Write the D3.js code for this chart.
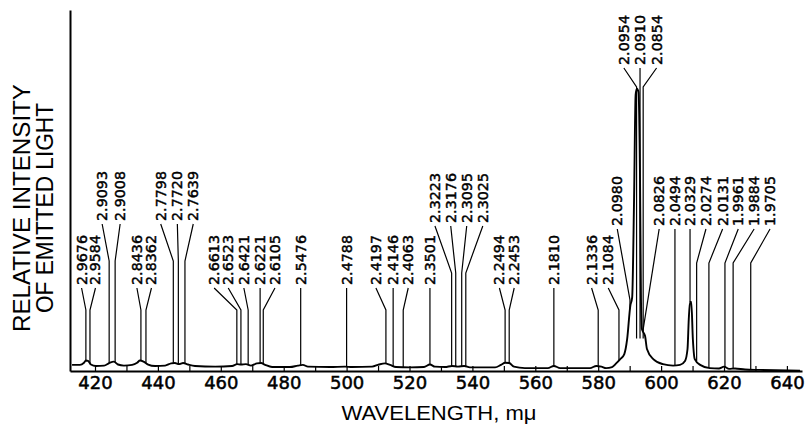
<!DOCTYPE html>
<html><head><meta charset="utf-8">
<script src="https://cdn.jsdelivr.net/npm/d3@7"></script>
<style>body{margin:0;background:#fff} svg{display:block}</style>
</head><body><svg id="c" width="805" height="429"></svg>
<script>
// ---------------- DATA ----------------
const specWavelength = [412.7,415.2,416.5,417.1,417.8,418.7,420.3,422.9,424.5,426.0,427.3,429.2,431.8,433.4,434.3,435.6,436.9,439.1,442.3,444.2,445.4,446.7,448.0,449.6,451.8,458.2,463.6,465.2,466.4,468.0,469.6,471.5,472.8,474.1,476.3,482.0,484.5,486.1,487.7,494.7,499.5,501.7,508.1,510.3,512.2,513.8,515.7,520.2,524.6,526.5,528.1,531.3,533.5,535.4,537.4,539.2,547.2,549.1,550.4,551.7,553.2,556.7,564.0,565.9,567.9,577.4,579.4,581.0,582.5,584.4,585.7,587.0,588.3,589.2,590.2,590.8,591.4,591.9,592.3,592.8,593.3,593.6,593.9,594.9,595.5,597.5,600.6,603.8,606.0,607.6,608.4,608.8,609.2,609.6,610.1,610.7,612.4,615.5,618.4,620.0,621.6,623.5,626.7,631.4,644.2];
const specIntensity  = [1.7,1.7,2.3,2.9,2.8,1.8,1.4,1.5,2.2,2.6,1.8,1.5,1.7,2.3,2.9,2.5,1.8,1.4,1.5,2.1,2.2,1.9,2.2,1.8,1.4,1.2,1.4,1.9,1.8,1.9,1.5,2.1,2.2,1.7,1.1,1.1,1.5,1.7,1.2,1.1,1.2,1.1,1.2,1.8,2.1,1.7,1.1,1.0,1.1,1.8,1.2,1.1,1.4,1.2,1.4,1.0,1.0,1.7,2.3,2.2,1.2,0.8,0.8,1.4,0.8,0.8,1.4,1.2,0.8,1.1,2.1,3.3,4.7,8.8,18.0,20.4,47.5,76.5,78.2,77.3,53.0,19.9,11.6,9.7,6.1,3.3,1.9,1.5,1.7,2.8,6.1,14.4,19.1,19.1,8.8,3.3,1.7,0.8,0.7,1.2,0.6,0.7,0.4,0.3,0.1];

const lineLabels = ["2.9676","2.9584","2.9093","2.9008","2.8436","2.8362","2.7798","2.7720","2.7639","2.6613","2.6523","2.6421","2.6221","2.6105","2.5476","2.4788","2.4197","2.4146","2.4063","2.3501","2.3223","2.3176","2.3095","2.3025","2.2494","2.2453","2.1810","2.1336","2.1084","2.0980","2.0954","2.0910","2.0854","2.0826","2.0494","2.0329","2.0274","2.0131","1.9961","1.9884","1.9705"];
const lineWavelength = [417.1,418.4,424.5,426.4,434.6,436.2,444.9,446.5,448.6,465.1,466.4,468.7,472.5,473.5,485.4,500.0,512.5,514.8,518.0,526.5,533.4,534.7,536.6,537.9,550.4,551.7,565.9,580.0,586.6,590.1,592.2,593.3,594.3,594.2,604.4,609.2,611.3,615.2,620.3,622.9,628.5];

const xTickValues = [420,430,440,450,460,470,480,490,500,510,520,530,540,550,560,570,580,590,600,610,620,630,640];
const xTickLabels = {420:"420",440:"440",460:"460",480:"480",500:"500",520:"520",540:"540",560:"560",580:"580",600:"600",620:"620",640:"640"};
const xTitle = "WAVELENGTH, m\u03bc";
const yTitleLines = ["RELATIVE INTENSITY", "OF EMITTED LIGHT"];

// ---------------- LAYOUT (annotation placement) ----------------
const labelDx = [-4.3,5.5,-7,5,-4,5.5,-12.6,-1,8.3,-22.7,-12.7,-4.3,0,11.7,0,0,-10,0,5,0,-16.7,-5,5,17,-5.7,5,0,-6.6,-10.7,-12.7,-12.7,0,13.4,16.3,0,0,9.3,13.7,13.3,21,19.3];
const labelTier = ["low","low","mid","mid","low","low","mid","mid","mid","low","low","low","low","low","low","low","low","low","low","low","mid2","mid2","mid2","mid2","low","low","low","low","low","r2","top","top","top","diag","right","right","right","right","right","right","right"];
const tiers = {
  low:  {text: 285, bend: 310},
  mid:  {text: 221, bend: 261},
  mid2: {text: 223, bend: 273},
  right:{text: 226, bend: 263},
  r2:   {text: 226, bend: 300},
  diag: {text: 226, bend: 9999},
  top:  {text: 65,  bend: 87, foot: 9}
};
const labelFont = "'DejaVu Sans', Verdana, sans-serif";

// ---------------- DRAW ----------------
const svg = d3.select("#c");
const x = d3.scaleLinear().domain([412.05, 644.8]).range([70, 802]);
const y = d3.scaleLinear().domain([0, 100]).range([371, 10]);

function interpI(l) {
  const i = d3.bisectLeft(specWavelength, l);
  if (i <= 0) return specIntensity[0];
  if (i >= specWavelength.length) return specIntensity[specIntensity.length - 1];
  const x0 = specWavelength[i-1], x1 = specWavelength[i];
  const t = (l - x0) / (x1 - x0);
  return specIntensity[i-1] + t * (specIntensity[i] - specIntensity[i-1]);
}

// axes
const xAxis = d3.axisBottom(x).tickValues(xTickValues)
  .tickSizeInner(-5).tickSizeOuter(0).tickPadding(5)
  .tickFormat(d => xTickLabels[d] || "");
const gx = svg.append("g").attr("transform", `translate(0,${y(0)})`).call(xAxis);
gx.select(".domain").attr("stroke", "#000").attr("stroke-width", 2);
gx.selectAll(".tick line").attr("stroke", "#000").attr("stroke-width", 1.2);
gx.selectAll(".tick text").attr("font-family", labelFont)
  .attr("font-size", 18).attr("fill", "#000")
  .attr("stroke", "#000").attr("stroke-width", 0.5);

const yAxis = d3.axisLeft(y).tickValues([]).tickSizeOuter(0);
const gy = svg.append("g").attr("transform", `translate(${x.range()[0]},0)`).call(yAxis);
gy.select(".domain").attr("stroke", "#000").attr("stroke-width", 2);

// spectrum curve
const specData = specWavelength.map((w, i) => [w, specIntensity[i]]);
svg.append("path").datum(specData)
  .attr("fill", "none").attr("stroke", "#000").attr("stroke-width", 1.9)
  .attr("stroke-linejoin", "round")
  .attr("d", d3.line().x(d => x(d[0])).y(d => y(d[1])).curve(d3.curveMonotoneX));

// line markers + labels
const ann = svg.append("g");
lineLabels.forEach((lab, i) => {
  const tier = tiers[labelTier[i]];
  const px = x(lineWavelength[i]);
  const lx = px + labelDx[i];
  const footI = tier.foot !== undefined ? tier.foot : interpI(lineWavelength[i]);
  const fy = y(footI);
  const by = Math.min(tier.bend, fy);
  const sy = tier.text + 3;
  ann.append("path")
    .attr("d", `M${lx},${sy}L${px},${by}L${px},${fy}`)
    .attr("fill", "none").attr("stroke", "#000").attr("stroke-width", 1.2);
  ann.append("text")
    .attr("transform", `translate(${lx},${tier.text}) rotate(-90)`)
    .attr("text-anchor", "start").attr("dominant-baseline", "central")
    .attr("font-family", labelFont)
    .attr("font-size", 14.3).attr("fill", "#000")
    .attr("stroke", "#000").attr("stroke-width", 0.45)
    .text(lab);
});

// titles
svg.append("text").attr("x", 439).attr("y", 420).attr("text-anchor", "middle")
  .attr("font-family", "'Liberation Sans', Arial, sans-serif").attr("font-size", 20)
  .attr("textLength", 195).attr("lengthAdjust", "spacingAndGlyphs")
  .text(xTitle);

yTitleLines.forEach((t, i) => {
  svg.append("text")
    .attr("transform", `translate(${[22, 45][i]},208) rotate(-90)`)
    .attr("text-anchor", "middle").attr("dominant-baseline", "central")
    .attr("font-family", "'Liberation Sans', Arial, sans-serif").attr("font-size", 23)
    .attr("textLength", [248, 210][i]).attr("lengthAdjust", "spacingAndGlyphs")
    .text(t);
});
</script></body></html>
